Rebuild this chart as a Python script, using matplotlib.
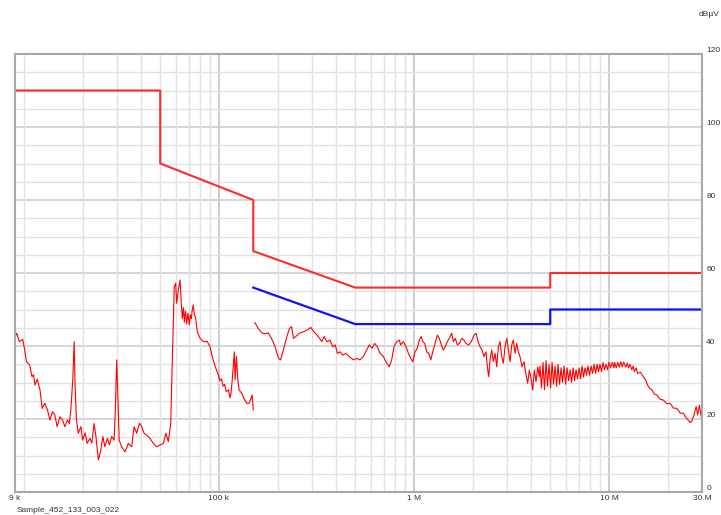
import numpy as np
import matplotlib
matplotlib.use("Agg")
import matplotlib.pyplot as plt
from matplotlib.ticker import FixedLocator, NullFormatter

plt.rcParams["font.family"] = ["Liberation Sans", "DejaVu Sans"]

# limit lines (frequency in kHz, level in dBuV)
qp_freq = [9, 50, 50, 150, 150, 500, 5000, 5000, 30000]
qp_level = [110, 110, 90, 80, 66, 56, 56, 60, 60]
avg_freq = [150, 500, 5000, 5000, 30000]
avg_level = [56, 46, 46, 50, 50]

# measured trace, sweep 9 kHz - 150 kHz
low_freq = [9.0, 9.18, 9.47, 9.86, 10.1, 10.3, 10.7, 11.0, 11.2, 11.4,
            11.7, 12.1, 12.4, 12.8, 13.2, 13.6, 14.0, 14.4, 14.8, 15.3,
            15.8, 16.2, 16.7, 17.1, 17.4, 17.8, 18.1, 18.3, 18.6, 19.0,
            19.6, 20.0, 20.6, 21.1, 21.8, 22.3, 22.9, 23.4, 24.1, 24.8,
            25.4, 26.0, 26.8, 27.4, 28.2, 29.0, 29.4, 29.9, 30.4, 30.8,
            31.7, 33.0, 34.3, 35.7, 36.7, 37.9, 39.1, 40.2, 41.3, 42.6,
            44.3, 46.1, 48.0, 49.9, 51.9, 53.5, 55.0, 56.6, 57.5, 58.4,
            59.0, 60.0, 60.7, 61.9, 63.2, 64.1, 64.9, 65.7, 66.5, 67.4,
            68.4, 69.4, 70.5, 71.3, 72.2, 73.0, 73.9, 74.8, 75.7, 77.5,
            80.0, 83.2, 87.2, 90.0, 92.9, 95.8, 99.3, 101, 103, 105,
            107, 109, 112, 114, 115, 117, 120, 121, 123, 125,
            127, 131, 134, 139, 143, 146, 148, 150]
low_level = [42.5, 43.5, 41.2, 41.8, 38.9, 35.7, 34.8, 31.6, 32.1, 29.3,
             30.9, 27.9, 22.9, 24.3, 22.5, 19.7, 22.0, 21.1, 17.9, 20.6,
             19.7, 17.9, 19.7, 18.8, 22.5, 30.7, 41.2, 28.8, 19.7, 16.1,
             17.9, 14.2, 16.2, 13.3, 14.7, 13.4, 18.8, 15.2, 8.8, 11.5,
             15.2, 12.4, 14.7, 12.9, 15.2, 14.2, 21.6, 36.2, 24.3, 14.2,
             12.4, 11.0, 13.3, 12.4, 17.9, 16.1, 18.8, 17.9, 16.1, 15.6,
             14.7, 13.3, 12.4, 12.9, 13.3, 16.1, 13.8, 18.8, 33.4, 47.1,
             56.2, 57.2, 51.7, 55.3, 58.1, 51.7, 47.5, 50.5, 46.5, 49.5,
             46.0, 49.0, 45.8, 48.5, 47.5, 50.0, 51.2, 48.5, 48.0, 43.9,
             42.1, 41.2, 41.2, 39.8, 36.6, 34.3, 32.1, 30.5, 31.0, 29.0,
             29.5, 27.5, 28.0, 25.8, 26.5, 30.7, 38.4, 30.7, 37.1, 30.7,
             27.9, 27.0, 25.7, 24.3, 24.3, 25.7, 26.6, 22.5]

# measured trace, sweep 150 kHz - 30 MHz
high_freq = [153, 159, 166, 172, 179, 186, 194, 202, 207, 214,
             223, 230, 236, 241, 248, 258, 271, 284, 296, 307,
             323, 337, 346, 357, 371, 383, 395, 405, 418, 431,
             448, 466, 489, 509, 529, 550, 572, 590, 609, 629,
             649, 670, 697, 725, 748, 769, 790, 816, 841, 855,
             882, 911, 936, 963, 986, 1013, 1040, 1066, 1087, 1110,
             1136, 1163, 1191, 1220, 1249, 1283, 1318, 1349, 1382, 1414,
             1448, 1483, 1518, 1562, 1592, 1630, 1669, 1709, 1758, 1806,
             1850, 1910, 1969, 2033, 2082, 2132, 2182, 2234, 2288, 2343,
             2379, 2418, 2456, 2506, 2553, 2605, 2658, 2709, 2764, 2820,
             2874, 2931, 2991, 3048, 3110, 3173, 3234, 3300, 3366, 3430,
             3499, 3583, 3668, 3757, 3832, 3905, 3984, 4065, 4143, 4226,
             4313, 4395, 4430, 4510, 4590, 4670, 4760, 4840, 4930, 5020,
             5110, 5200, 5290, 5390, 5480, 5580, 5680, 5780, 5890, 5990,
             6100, 6210, 6320, 6430, 6550, 6660, 6780, 6900, 7030, 7150,
             7280, 7410, 7540, 7680, 7810, 7950, 8100, 8240, 8390, 8540,
             8690, 8840, 9000, 9160, 9330, 9490, 9660, 9840, 10000, 10200,
             10400, 10600, 10700, 10900, 11100, 11300, 11500, 11700, 11900, 12200,
             12400, 12600, 12800, 13100, 13300, 13500, 13800, 14000, 14500, 15000,
             15400, 15800, 16200, 16600, 17100, 17600, 18300, 19000, 19800, 20600,
             21400, 22300, 23200, 24100, 24800, 25500, 26100, 26600, 27300, 28000,
             28500, 29100, 29700, 30000]
high_level = [46.4, 44.8, 43.6, 43.3, 43.6, 42.1, 39.8, 36.6, 36.2, 38.9,
              42.6, 44.8, 45.3, 42.1, 42.6, 43.5, 43.9, 44.4, 45.1, 43.9,
              42.6, 41.2, 42.6, 41.2, 41.6, 39.8, 40.3, 38.0, 38.4, 37.5,
              38.0, 37.1, 36.2, 36.6, 36.2, 37.1, 38.9, 40.3, 39.4, 40.7,
              39.8, 38.0, 37.1, 35.3, 34.3, 36.2, 39.8, 41.2, 41.6, 40.3,
              41.2, 39.8, 38.0, 36.6, 35.7, 38.4, 39.4, 41.6, 42.6, 41.2,
              40.7, 38.4, 38.0, 36.2, 38.4, 40.7, 43.0, 42.1, 40.3, 38.9,
              39.8, 41.2, 42.1, 43.5, 41.2, 42.1, 40.3, 40.7, 42.1, 41.6,
              40.7, 40.3, 41.2, 43.0, 43.5, 41.2, 39.8, 38.9, 37.1, 38.4,
              34.3, 31.6, 36.2, 38.9, 35.7, 38.0, 34.3, 39.8, 41.2, 37.1,
              35.3, 39.8, 42.1, 38.9, 35.7, 40.3, 41.6, 38.0, 40.7, 38.4,
              37.1, 34.3, 35.7, 32.1, 29.8, 33.4, 31.2, 27.9, 33.4, 30.2,
              34.3, 31.6, 34.5, 28.5, 35.5, 28.0, 36.0, 29.0, 35.0, 28.5,
              35.5, 29.5, 34.5, 29.0, 35.0, 29.5, 34.0, 30.0, 34.5, 29.5,
              34.0, 30.5, 33.5, 30.0, 34.0, 30.5, 33.5, 31.0, 34.0, 31.0,
              34.5, 31.5, 34.0, 32.0, 34.5, 32.0, 34.5, 32.5, 35.0, 32.5,
              35.0, 33.0, 35.0, 33.0, 35.5, 33.5, 35.0, 33.5, 35.5, 34.0,
              35.5, 34.0, 35.5, 34.0, 35.5, 34.2, 35.7, 34.3, 35.6, 34.2,
              35.3, 34.0, 35.0, 33.5, 34.5, 33.0, 34.0, 32.5, 32.8, 31.6,
              30.8, 29.2, 28.4, 28.0, 26.8, 26.6, 25.4, 25.2, 24.2, 24.3,
              23.0, 22.9, 21.6, 21.6, 20.4, 19.7, 19.0, 19.5, 21.1, 23.4,
              21.1, 23.8, 20.6, 21.5]

x_ticks = [9e3, 1e5, 1e6, 1e7, 3e7]
x_labels = ["9 k", "100 k", "1 M", "10 M", "30 M"]
y_ticks = [0, 20, 40, 60, 80, 100, 120]

fig = plt.figure(figsize=(7.21, 5.15), dpi=100)
ax = fig.add_axes([15 / 721, 23 / 515, 687 / 721, 438 / 515])

khz = 1e3
ax.plot(np.array(qp_freq) * khz, qp_level, color="#ff2a2a", lw=1.5)
ax.plot(np.array(avg_freq) * khz, avg_level, color="#1010ff", lw=1.6)
ax.plot(np.array(low_freq) * khz, low_level, color="#ff0000", lw=0.8)
ax.plot(np.array(high_freq) * khz, high_level, color="#ff0000", lw=0.8)

ax.set_xscale("log")
ax.set_xlim(9e3, 3e7)
ax.set_ylim(0, 120)

# grid: decades darker, the rest light
ax.xaxis.set_major_locator(FixedLocator(x_ticks))
ax.set_xticklabels(x_labels)
minor_x = [m * 10 ** e for e in range(4, 8) for m in range(1, 10)]
ax.xaxis.set_minor_locator(FixedLocator(minor_x))
ax.xaxis.set_minor_formatter(NullFormatter())
ax.yaxis.set_major_locator(FixedLocator(y_ticks))
ax.yaxis.set_minor_locator(FixedLocator(list(range(0, 121, 5))))

ax.grid(which="minor", color="#e2e2e2", lw=1.0)
for d in [1e5, 1e6, 1e7]:
    ax.axvline(d, color="#c4c4c4", lw=1.2, zorder=0.5)
for v in y_ticks:
    ax.axhline(v, color="#cfcfcf", lw=1.2, zorder=0.5)
ax.set_axisbelow(True)

for s in ax.spines.values():
    s.set_color("#a8a8a8")
    s.set_linewidth(1.5)

ax.yaxis.tick_right()
ax.tick_params(axis="both", which="both", length=0, labelsize=6,
               labelcolor="#333333")
ax.tick_params(axis="x", pad=2)
ax.tick_params(axis="y", pad=3)
for lab in ax.get_yticklabels():
    lab.set_verticalalignment("bottom")

fig.text(699 / 721, 1 - 15 / 515, "dBµV", fontsize=6, color="#333333",
         ha="left", va="center")
fig.text(17 / 721, 1 - 511 / 515, "Sample_452_133_003_022", fontsize=6,
         color="#333333", ha="left", va="center")

fig.savefig("out.png", dpi=100)
